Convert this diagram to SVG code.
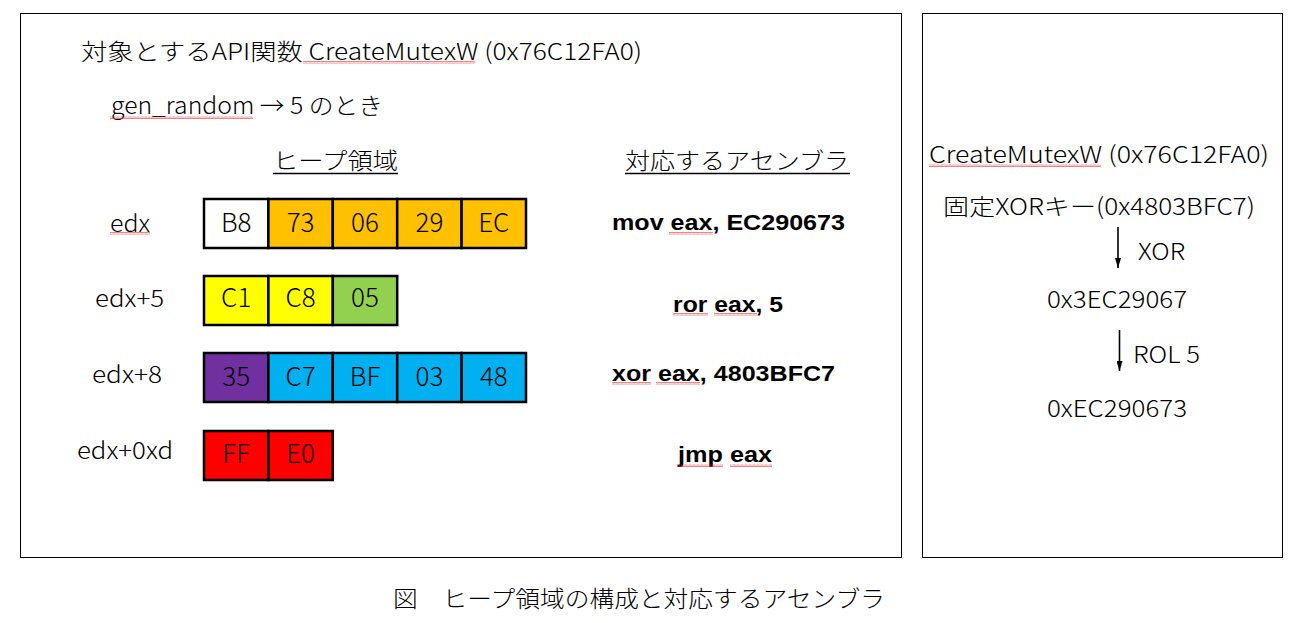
<svg xmlns="http://www.w3.org/2000/svg" width="1309" height="623" viewBox="0 0 1309 623">
<defs>
<pattern id="wave" x="0" y="0" width="4" height="3" patternUnits="userSpaceOnUse">
<polyline points="0,2.5 1,0.5 2,2.5 3,0.5 4,2.5" fill="none" stroke="#e83030" stroke-width="0.6"/>
</pattern>
<marker id="arr" markerWidth="10" markerHeight="6" refX="10" refY="3" orient="auto" markerUnits="userSpaceOnUse" viewBox="0 0 10 6">
<path d="M0,0 L10,3 L0,6 z" fill="#000"/>
</marker>
</defs>
<style>
.frame{fill:#fff;stroke:#000;stroke-width:1}
.t{font-family:"Noto Sans CJK JP","Noto Sans",sans-serif;font-weight:300;font-size:23px;fill:#000}
.v{font-family:"Noto Sans CJK JP","Noto Sans",sans-serif;font-weight:300;font-size:26px;fill:#000;text-anchor:middle}
.b{font-family:"Liberation Sans",Arial,sans-serif;font-weight:bold;font-size:22px;fill:#000}
.cell{stroke:#000;stroke-width:2.5}
.w{fill:url(#wave)}
.ar{stroke:#000;stroke-width:1.6;marker-end:url(#arr)}
</style>
<rect width="1309" height="623" fill="#fff"/>
<rect class="frame" x="20.5" y="13.5" width="881" height="544"/>
<rect class="frame" x="922.5" y="13.5" width="360" height="544"/>

<g id="header">
<text class="t" x="81" y="60" textLength="561" lengthAdjust="spacingAndGlyphs">対象とするAPI関数 CreateMutexW (0x76C12FA0)</text>
<rect class="w" x="303" y="61" width="172" height="3"/>
<text class="t" x="111" y="114" textLength="272" lengthAdjust="spacingAndGlyphs">gen_random → 5 のとき</text>
<rect class="w" x="110" y="116" width="143" height="3"/>
</g>

<g id="heap-title">
<text class="t" x="273" y="169" textLength="125" lengthAdjust="spacingAndGlyphs">ヒープ領域</text>
<line x1="273" y1="173.5" x2="398" y2="173.5" stroke="#000" stroke-width="1.5"/>
</g>
<g id="asm-title">
<text class="t" x="625" y="169" textLength="224" lengthAdjust="spacingAndGlyphs">対応するアセンブラ</text>
<line x1="625" y1="173.5" x2="850" y2="173.5" stroke="#000" stroke-width="1.5"/>
</g>

<g id="row-edx">
<text class="t" x="110" y="232" textLength="40" lengthAdjust="spacingAndGlyphs">edx</text>
<rect class="w" x="110" y="232" width="40" height="3"/>
<rect class="cell" x="204" y="199" width="64.4" height="49" fill="#fff"/>
<rect class="cell" x="268.4" y="199" width="64.4" height="49" fill="#FFC000"/>
<rect class="cell" x="332.8" y="199" width="64.4" height="49" fill="#FFC000"/>
<rect class="cell" x="397.2" y="199" width="64.4" height="49" fill="#FFC000"/>
<rect class="cell" x="461.6" y="199" width="64.4" height="49" fill="#FFC000"/>
<text class="v" x="236.2" y="232">B8</text>
<text class="v" x="300.6" y="232">73</text>
<text class="v" x="365" y="232">06</text>
<text class="v" x="429.4" y="232">29</text>
<text class="v" x="493.8" y="232">EC</text>
</g>

<g id="row-edx5">
<text class="t" x="95" y="307" textLength="69" lengthAdjust="spacingAndGlyphs">edx+5</text>
<rect class="cell" x="204" y="276" width="64.4" height="49" fill="#FFFF00"/>
<rect class="cell" x="268.4" y="276" width="64.4" height="49" fill="#FFFF00"/>
<rect class="cell" x="332.8" y="276" width="64.4" height="49" fill="#92D050"/>
<text class="v" x="236.2" y="307">C1</text>
<text class="v" x="300.6" y="307">C8</text>
<text class="v" x="365" y="307">05</text>
</g>

<g id="row-edx8">
<text class="t" x="92" y="383" textLength="70" lengthAdjust="spacingAndGlyphs">edx+8</text>
<rect class="cell" x="204" y="353" width="64.4" height="49" fill="#7030A0"/>
<rect class="cell" x="268.4" y="353" width="64.4" height="49" fill="#00B0F0"/>
<rect class="cell" x="332.8" y="353" width="64.4" height="49" fill="#00B0F0"/>
<rect class="cell" x="397.2" y="353" width="64.4" height="49" fill="#00B0F0"/>
<rect class="cell" x="461.6" y="353" width="64.4" height="49" fill="#00B0F0"/>
<text class="v" x="236.2" y="386">35</text>
<text class="v" x="300.6" y="386">C7</text>
<text class="v" x="365" y="386">BF</text>
<text class="v" x="429.4" y="386">03</text>
<text class="v" x="493.8" y="386">48</text>
</g>

<g id="row-edx0d">
<text class="t" x="77" y="459" textLength="96" lengthAdjust="spacingAndGlyphs">edx+0xd</text>
<rect class="cell" x="204" y="431" width="64.4" height="49" fill="#FF0000"/>
<rect class="cell" x="268.4" y="431" width="64.4" height="49" fill="#FF0000"/>
<text class="v" x="236.2" y="463">FF</text>
<text class="v" x="300.6" y="463">E0</text>
</g>

<g id="asm">
<text class="b" x="612" y="230" textLength="233" lengthAdjust="spacingAndGlyphs">mov eax, EC290673</text>
<rect class="w" x="669" y="232" width="44" height="3"/>
<text class="b" x="673" y="312" textLength="110" lengthAdjust="spacingAndGlyphs">ror eax, 5</text>
<rect class="w" x="673" y="313" width="35" height="3"/>
<rect class="w" x="714" y="313" width="43" height="3"/>
<text class="b" x="612" y="381" textLength="223" lengthAdjust="spacingAndGlyphs">xor eax, 4803BFC7</text>
<rect class="w" x="612" y="382" width="39" height="3"/>
<rect class="w" x="656" y="382" width="44" height="3"/>
<text class="b" x="678" y="462" textLength="94" lengthAdjust="spacingAndGlyphs">jmp eax</text>
<rect class="w" x="677" y="464" width="46" height="3"/>
<rect class="w" x="730" y="464" width="42" height="3"/>
</g>

<g id="right-api">
<text class="t" x="929" y="163" textLength="340" lengthAdjust="spacingAndGlyphs">CreateMutexW (0x76C12FA0)</text>
<rect class="w" x="929" y="164" width="172" height="3"/>
</g>
<g id="right-key">
<text class="t" x="943" y="215" textLength="312" lengthAdjust="spacingAndGlyphs">固定XORキー(0x4803BFC7)</text>
</g>
<g id="right-v1">
<text class="t" x="1047" y="308" textLength="140" lengthAdjust="spacingAndGlyphs">0x3EC29067</text>
</g>
<g id="right-v2">
<text class="t" x="1047" y="417" textLength="140" lengthAdjust="spacingAndGlyphs">0xEC290673</text>
</g>

<g id="connectors">
<line class="ar" x1="1118" y1="227" x2="1118" y2="268"/>
<text class="t" x="1138" y="260" textLength="47" lengthAdjust="spacingAndGlyphs">XOR</text>
<line class="ar" x1="1119.5" y1="330" x2="1119.5" y2="371"/>
<text class="t" x="1133" y="363" textLength="67" lengthAdjust="spacingAndGlyphs">ROL 5</text>
</g>

<g id="caption">
<text class="t" x="393" y="607" textLength="492" lengthAdjust="spacingAndGlyphs">図　ヒープ領域の構成と対応するアセンブラ</text>
</g>
</svg>
